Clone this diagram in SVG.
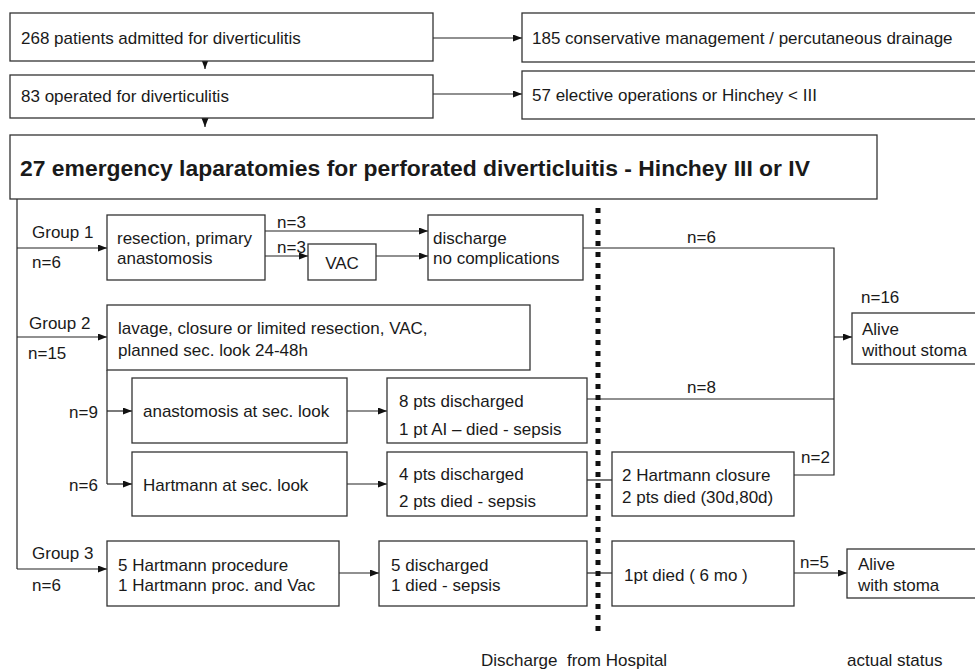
<svg xmlns="http://www.w3.org/2000/svg" width="975" height="672" viewBox="0 0 975 672">
<defs>
<style>
.box{fill:#fff;stroke:#333;stroke-width:1.3}
.t{font-family:"Liberation Sans",Arial,sans-serif;font-size:17px;fill:#1a1a1a}
.tb{font-family:"Liberation Sans",Arial,sans-serif;font-size:22.9px;font-weight:bold;fill:#1a1a1a}
.c{fill:none;stroke:#222;stroke-width:1.2}
.a{marker-end:url(#ah)}
</style>
<marker id="ah" markerUnits="userSpaceOnUse" markerWidth="10" markerHeight="8" refX="9" refY="3.5" orient="auto">
<path d="M0,0 L9,3.5 L0,7 z" fill="#111"/>
</marker>
</defs>
<rect width="975" height="672" fill="#fff"/>

<g id="connectors">
<line class="c a" x1="433" y1="38" x2="522" y2="38"/>
<line class="c a" x1="433" y1="94" x2="522" y2="94"/>
<line class="c a" x1="205" y1="61" x2="205" y2="69"/>
<line class="c a" x1="205" y1="118" x2="205" y2="127"/>
<polyline class="c" points="17,199 17,569"/>
<line class="c a" x1="17" y1="248" x2="107" y2="248"/>
<line class="c a" x1="17" y1="337" x2="107" y2="337"/>
<line class="c a" x1="17" y1="569" x2="107" y2="569"/>
<line class="c a" x1="265" y1="231" x2="428" y2="231"/>
<line class="c a" x1="265" y1="256" x2="308" y2="256"/>
<line class="c a" x1="376" y1="256" x2="428" y2="256"/>
<polyline class="c" points="107,370 107,484"/>
<line class="c a" x1="107" y1="411" x2="132" y2="411"/>
<line class="c a" x1="107" y1="484" x2="132" y2="484"/>
<line class="c a" x1="347" y1="411" x2="387" y2="411"/>
<line class="c a" x1="347" y1="484" x2="387" y2="484"/>
<line class="c a" x1="339" y1="573" x2="379" y2="573"/>
<polyline class="c" points="583,248 834,248 834,475 794,475"/>
<line class="c" x1="587" y1="399" x2="834" y2="399"/>
<line class="c a" x1="834" y1="337" x2="852" y2="337"/>
<line class="c" x1="587" y1="480" x2="612" y2="480"/>
<line class="c" x1="587" y1="573" x2="612" y2="573"/>
<line class="c a" x1="794" y1="573" x2="847" y2="573"/>
<text class="t" x="277" y="228">n=3</text>
<text class="t" x="277" y="253">n=3</text>
<text class="t" x="687" y="243">n=6</text>
<text class="t" x="687" y="393">n=8</text>
<text class="t" x="801" y="463">n=2</text>
<text class="t" x="800" y="568">n=5</text>
<text class="t" x="861" y="303">n=16</text>
<text class="t" x="32" y="238">Group 1</text>
<text class="t" x="32" y="268">n=6</text>
<text class="t" x="29" y="329">Group 2</text>
<text class="t" x="28" y="359">n=15</text>
<text class="t" x="69" y="418">n=9</text>
<text class="t" x="69" y="491">n=6</text>
<text class="t" x="32" y="559">Group 3</text>
<text class="t" x="32" y="591">n=6</text>
</g>

<g id="n-admitted"><rect class="box" x="10" y="13" width="423" height="48"/><text class="t" x="21" y="44">268 patients admitted for diverticulitis</text></g>
<g id="n-conservative"><rect class="box" x="522" y="13" width="460" height="49"/><text class="t" x="532" y="44">185 conservative management / percutaneous drainage</text></g>
<g id="n-operated"><rect class="box" x="10" y="75" width="423" height="43"/><text class="t" x="21" y="102">83 operated for diverticulitis</text></g>
<g id="n-elective"><rect class="box" x="522" y="71" width="460" height="48"/><text class="t" x="532" y="101">57 elective operations or Hinchey &lt; III</text></g>
<g id="n-emergency"><rect class="box" x="10" y="135" width="867" height="64"/><text class="tb" x="20" y="176">27 emergency laparatomies for perforated diverticluitis - Hinchey III or IV</text></g>

<g id="n-resection"><rect class="box" x="107" y="215" width="158" height="65"/><text class="t" x="117" y="244">resection, primary</text><text class="t" x="117" y="264">anastomosis</text></g>
<g id="n-vac"><rect class="box" x="308" y="244" width="68" height="36"/><text class="t" x="342" y="269" text-anchor="middle">VAC</text></g>
<g id="n-discharge1"><rect class="box" x="428" y="215" width="155" height="65"/><text class="t" x="433" y="244">discharge</text><text class="t" x="433" y="264">no complications</text></g>

<g id="n-lavage"><rect class="box" x="107" y="305" width="423" height="65"/><text class="t" x="118" y="334">lavage, closure or limited resection, VAC,</text><text class="t" x="118" y="356">planned sec. look 24-48h</text></g>
<g id="n-anast"><rect class="box" x="132" y="378" width="215" height="65"/><text class="t" x="143" y="417">anastomosis at sec. look</text></g>
<g id="n-8pts"><rect class="box" x="387" y="378" width="200" height="65"/><text class="t" x="399" y="407">8 pts discharged</text><text class="t" x="399" y="435">1 pt AI – died - sepsis</text></g>
<g id="n-hartmann"><rect class="box" x="132" y="452" width="215" height="64"/><text class="t" x="143" y="491">Hartmann at sec. look</text></g>
<g id="n-4pts"><rect class="box" x="387" y="452" width="200" height="64"/><text class="t" x="399" y="480">4 pts discharged</text><text class="t" x="399" y="507">2 pts died - sepsis</text></g>
<g id="n-closure"><rect class="box" x="612" y="452" width="182" height="64"/><text class="t" x="622" y="481">2 Hartmann closure</text><text class="t" x="622" y="503">2 pts died (30d,80d)</text></g>
<g id="n-alive1"><rect class="box" x="852" y="313" width="130" height="51"/><text class="t" x="862" y="335">Alive</text><text class="t" x="862" y="356">without stoma</text></g>

<g id="n-group3"><rect class="box" x="107" y="541" width="232" height="65"/><text class="t" x="118" y="571">5 Hartmann procedure</text><text class="t" x="118" y="591">1 Hartmann proc. and Vac</text></g>
<g id="n-5dis"><rect class="box" x="379" y="541" width="208" height="65"/><text class="t" x="391" y="571">5 discharged</text><text class="t" x="391" y="591">1 died - sepsis</text></g>
<g id="n-1pt"><rect class="box" x="612" y="541" width="182" height="65"/><text class="t" x="624" y="581">1pt died ( 6 mo )</text></g>
<g id="n-alive2"><rect class="box" x="847" y="549" width="135" height="49"/><text class="t" x="858" y="570">Alive</text><text class="t" x="858" y="591">with stoma</text></g>

<line x1="598" y1="208" x2="598" y2="637" stroke="#111" stroke-width="5" stroke-dasharray="5 6"/>
<text class="t" x="481" y="666" xml:space="preserve">Discharge  from Hospital</text>
<text class="t" x="847" y="666">actual status</text>
</svg>
